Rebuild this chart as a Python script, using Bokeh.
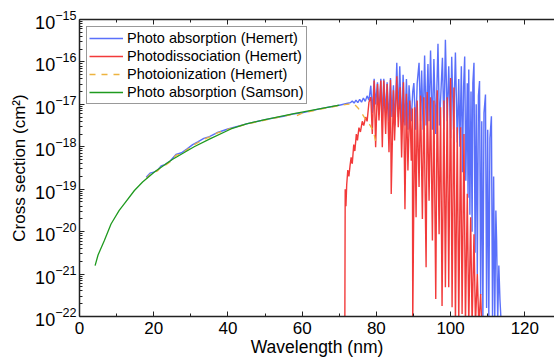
import numpy as np
from bokeh.plotting import figure
from bokeh.models import LinearAxis, FixedTicker, Legend, LegendItem, Range1d, CustomJSTickFormatter
from bokeh.embed import file_html
from bokeh.resources import INLINE

# ---- data (wavelength in nm, log10 of cross section in cm^2) ----
samson_nm = [4.2, 5.0, 6.7, 8.5, 10.7, 12.0, 14.8, 17.0, 20.1, 25.0, 30.9, 35.0, 40.8, 45.0, 50.0, 57.8, 65.0, 70.0]
samson_log = [-20.80, -20.55, -20.21, -19.82, -19.50, -19.35, -19.03, -18.83, -18.60, -18.30, -18.00, -17.82,
              -17.58, -17.46, -17.36, -17.22, -17.10, -17.02]

ion_nm = [18.0, 19.0, 20.0, 21.0, 22.0, 23.0, 24.5, 26.0, 27.5, 29.0, 30.5, 32.0, 33.5, 35.0, 37.0, 40.0, 45.0,
          50.0, 55.0, 57.0, 58.5, 60.0, 65.0, 70.0, 72.0, 74.0, 75.0, 76.0, 77.0, 78.0, 79.0, 79.5, 80.0]
ion_log = [-18.75, -18.65, -18.60, -18.57, -18.47, -18.44, -18.35, -18.20, -18.16, -18.07, -17.97, -17.90, -17.82,
           -17.77, -17.68, -17.59, -17.47, -17.37, -17.28, -17.24, -17.27, -17.21, -17.11, -17.03, -17.00, -16.99,
           -17.08, -17.20, -17.34, -17.45, -17.60, -17.75, -17.95]

abs_nm = [18.0, 19.0, 20.0, 21.0, 22.0, 23.0, 24.5, 26.0, 27.5, 29.0, 30.5, 32.0, 33.5, 35.0, 37.0, 40.0, 45.0,
          50.0, 55.0, 58.0, 60.0, 65.0, 70.0, 72.0, 73.0, 73.5, 74.0, 74.5, 75.0, 75.5, 76.0, 76.5, 77.0, 77.5,
          78.0, 78.5, 78.9, 79.4, 79.8, 80.3, 80.7, 81.2, 81.6, 82.0, 82.5, 82.9, 83.4, 83.8, 84.2, 84.6, 85.0,
          85.5, 85.9, 86.3, 86.8, 87.2, 87.7, 88.1, 88.5, 88.8, 89.4, 89.8, 90.1, 90.6, 91.0, 91.5, 91.9, 92.2,
          92.6, 93.0, 93.4, 93.9, 94.2, 94.6, 95.1, 95.5, 96.0, 96.6, 97.0, 97.8, 98.2, 98.6, 99.1, 99.5, 100.0,
          100.3, 100.8, 101.3, 101.8, 102.2, 102.5, 102.9, 103.2, 103.5, 103.8, 104.1, 104.5, 104.7, 104.9,
          105.2, 105.5, 105.8, 106.0, 106.3, 106.6, 106.9, 107.2, 107.5, 107.8, 108.1, 108.4, 108.7, 109.0,
          109.4, 109.7, 110.0, 110.3, 110.6, 111.0, 111.3, 111.6, 111.9, 112.2, 112.4, 112.7, 113.0, 113.3, 113.6]
abs_log = [-18.72, -18.62, -18.60, -18.55, -18.45, -18.42, -18.33, -18.18, -18.14, -18.05, -17.95, -17.88, -17.80,
           -17.76, -17.67, -17.58, -17.46, -17.36, -17.28, -17.22, -17.20, -17.10, -17.02, -16.98, -16.96, -16.92,
           -16.97, -16.90, -16.96, -16.88, -16.95, -16.85, -16.93, -16.80, -16.90, -16.56, -17.20, -16.40, -17.00,
           -16.48, -17.20, -16.40, -17.30, -16.40, -17.20, -16.48, -17.40, -16.38, -17.30, -16.55, -17.50, -16.02,
           -17.30, -16.10, -17.60, -16.30, -17.50, -16.40, -17.60, -16.55, -17.40, -16.70, -16.50, -17.60, -16.50,
           -16.02, -17.40, -16.20, -17.60, -15.85, -17.50, -16.05, -17.40, -15.73, -17.60, -15.93, -17.70, -15.57,
           -17.50, -15.90, -17.60, -15.48, -17.40, -16.10, -17.80, -15.88, -17.60, -15.78, -17.90, -16.40, -18.00,
           -16.10, -18.60, -16.60, -15.87, -18.80, -16.50, -19.20, -16.18, -19.60, -16.70, -20.00, -16.50, -16.02,
           -20.50, -17.00, -21.00, -16.80, -16.45, -21.50, -17.40, -22.10, -17.20, -16.77, -21.80, -17.60, -22.10,
           -17.80, -17.28, -22.10, -18.70, -22.10, -19.50, -20.20, -22.10, -20.80, -21.60, -22.10]

dis_nm = [71.5, 71.6, 71.8, 72.0, 72.3, 72.6, 72.9, 73.2, 73.5, 73.9, 74.2, 74.6, 74.9, 75.3, 75.7, 76.2, 76.6,
          77.1, 77.5, 78.0, 78.5, 78.9, 79.4, 79.8, 80.3, 80.7, 81.2, 81.6, 82.0, 82.5, 82.9, 83.4, 83.8, 84.0,
          84.6, 84.9, 85.5, 85.9, 86.4, 86.8, 87.3, 87.7, 88.1, 88.5, 89.0, 89.4, 89.7, 89.8, 90.3, 90.7, 91.0,
          91.5, 91.9, 92.4, 92.8, 93.4, 93.7, 94.2, 94.6, 95.1, 95.5, 96.0, 96.4, 96.9, 97.3, 97.7, 98.2, 98.6,
          99.1, 99.5, 100.0, 100.4, 100.9, 101.3, 101.8, 102.2, 102.7, 103.1, 103.6, 104.0, 104.5, 104.9, 105.4,
          105.8, 106.3, 106.7, 107.2, 107.6, 108.1, 108.4]
dis_log = [-22.2, -19.00, -19.40, -18.90, -18.55, -18.70, -18.45, -18.25, -18.40, -17.95, -18.10, -17.70, -17.85,
           -17.55, -17.65, -17.40, -17.50, -17.30, -17.40, -16.95, -16.83, -17.70, -16.44, -18.01, -16.52, -17.38,
           -16.44, -18.01, -16.44, -17.70, -16.52, -18.13, -16.42, -19.11, -16.67, -17.85, -16.34, -17.54, -16.60,
           -18.25, -16.48, -19.47, -16.75, -18.56, -16.91, -18.33, -17.10, -22.2, -17.07, -19.66, -16.91, -18.95,
           -16.79, -19.70, -16.83, -20.84, -16.71, -19.27, -16.83, -20.21, -16.91, -21.59, -16.67, -20.06, -17.07,
           -21.75, -16.91, -21.31, -16.83, -21.31, -16.38, -21.78, -16.60, -22.2, -17.54, -22.2, -17.54, -21.94,
           -17.70, -22.2, -19.11, -22.2, -19.66, -22.2, -20.06, -22.2, -21.00, -22.2, -21.47, -22.2]

x_ticks = [0, 20, 40, 60, 80, 100, 120]
x_minor = [10, 30, 50, 70, 90, 110, 130]
y_decades = [-22, -21, -20, -19, -18, -17, -16, -15]

labels = ["Photo absorption (Hemert)", "Photodissociation (Hemert)",
          "Photoionization (Hemert)", "Photo absorption (Samson)"]
colors = ["#5A70FA", "#F23A3A", "#EDB33F", "#1F9A1F"]

FONT = "Liberation Sans"

p = figure(width=554, height=361, y_axis_type="log",
           x_range=Range1d(0, 128), y_range=Range1d(1e-22, 1e-15),
           output_backend="svg", toolbar_location=None,
           min_border_left=79, min_border_right=0, min_border_top=19, min_border_bottom=45)
p.outline_line_color = None
p.grid.visible = False
p.background_fill_color = "white"
p.border_fill_color = "white"

r_abs = p.line(abs_nm, 10.0 ** np.array(abs_log), line_color=colors[0], line_width=1.4)
r_dis = p.line(dis_nm, 10.0 ** np.array(dis_log), line_color=colors[1], line_width=1.4)
r_ion = p.line(ion_nm, 10.0 ** np.array(ion_log), line_color=colors[2], line_width=1.3, line_dash="6 6")
r_sam = p.line(samson_nm, 10.0 ** np.array(samson_log), line_color=colors[3], line_width=1.3)

xt = FixedTicker(ticks=x_ticks, minor_ticks=x_minor)
minor_y = [m * 10.0 ** d for d in y_decades[:-1] for m in range(2, 10)]
yt = FixedTicker(ticks=[10.0 ** d for d in y_decades], minor_ticks=minor_y)

def style(ax):
    ax.axis_line_color = "#222222"
    ax.axis_line_width = 1.5
    ax.major_tick_line_color = "#222222"
    ax.minor_tick_line_color = "#222222"
    ax.major_tick_in = 5
    ax.major_tick_out = 0
    ax.minor_tick_in = 3
    ax.minor_tick_out = 0
    ax.major_label_text_font = FONT
    ax.major_label_text_color = "black"
    ax.axis_label_text_font = FONT
    ax.axis_label_text_font_style = "normal"
    ax.axis_label_text_color = "black"

xa = p.xaxis[0]
xa.ticker = xt
style(xa)
xa.major_label_text_font_size = "17px"
xa.major_label_standoff = 5
xa.axis_label = "Wavelength (nm)"
xa.axis_label_text_font_size = "17.5px"
xa.axis_label_standoff = 0

ya = p.yaxis[0]
ya.ticker = yt
style(ya)
ya.major_label_text_font_size = "18px"
ya.major_label_standoff = 3
ya.axis_label = "Cross section (cm²)"
ya.axis_label_text_font_size = "17px"
ya.axis_label_standoff = 3

top = LinearAxis(ticker=xt, formatter=CustomJSTickFormatter(code="return ''"))
style(top)
top.major_label_standoff = 0
top.major_label_text_font_size = "1px"
p.add_layout(top, "above")

legend = Legend(items=[LegendItem(label=labels[0], renderers=[r_abs]),
                       LegendItem(label=labels[1], renderers=[r_dis]),
                       LegendItem(label=labels[2], renderers=[r_ion]),
                       LegendItem(label=labels[3], renderers=[r_sam])],
                location="top_left")
legend.margin = 7
legend.padding = 2
legend.spacing = 0
legend.glyph_height = 18
legend.label_height = 18
legend.glyph_width = 34
legend.label_standoff = 4
legend.label_text_font = FONT
legend.label_text_font_size = "14.5px"
legend.label_text_color = "black"
legend.border_line_color = "#333333"
legend.border_line_width = 1.5
legend.background_fill_alpha = 1.0
p.add_layout(legend)

open("out.html", "w").write(file_html(p, INLINE))
